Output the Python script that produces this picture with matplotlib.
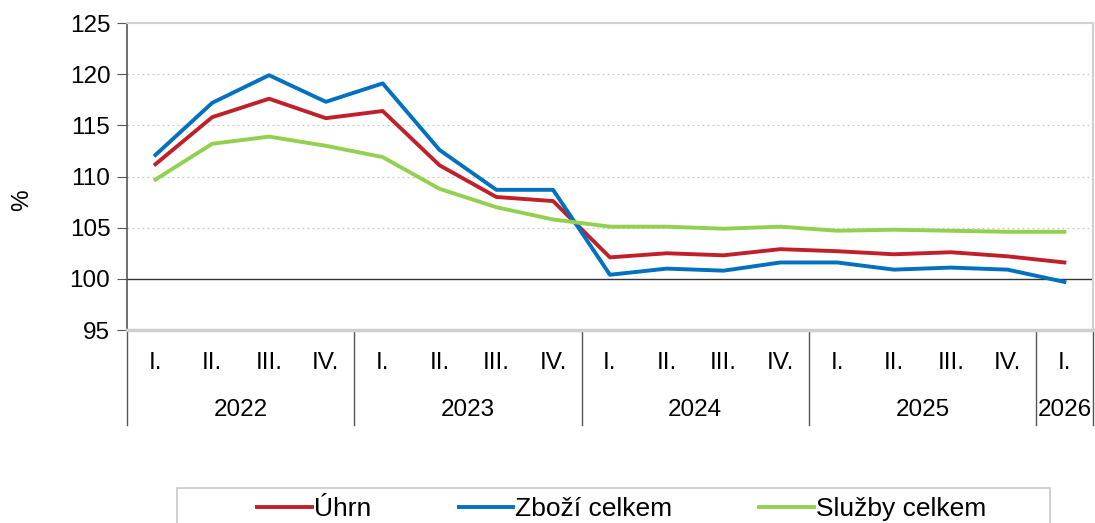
import matplotlib.pyplot as plt
import matplotlib.transforms as mtransforms
from matplotlib.patches import Rectangle

plt.rcParams['font.family'] = ['Liberation Sans', 'DejaVu Sans']

quarters = ['I.', 'II.', 'III.', 'IV.'] * 4 + ['I.']
years = ['2022', '2023', '2024', '2025', '2026']
year_counts = [4, 4, 4, 4, 1]

uhrn = [111.2, 115.8, 117.6, 115.7, 116.4, 111.1, 108.0, 107.6,
        102.1, 102.5, 102.3, 102.9, 102.7, 102.4, 102.6, 102.2, 101.6]
zbozi = [112.1, 117.2, 119.9, 117.3, 119.1, 112.6, 108.7, 108.7,
         100.4, 101.0, 100.8, 101.6, 101.6, 100.9, 101.1, 100.9, 99.7]
sluzby = [109.7, 113.2, 113.9, 113.0, 111.9, 108.8, 107.0, 105.8,
          105.1, 105.1, 104.9, 105.1, 104.7, 104.8, 104.7, 104.6, 104.6]

FS = 17.5

fig = plt.figure(figsize=(10.95, 5.23), dpi=100)
ax = fig.add_axes([0.116, 0.369, 0.882, 0.587])

x = list(range(len(quarters)))
ax.plot(x, uhrn, color='#C0202A', lw=2.8, label='Úhrn', zorder=3)
ax.plot(x, zbozi, color='#0070C0', lw=2.8, label='Zboží celkem', zorder=3)
ax.plot(x, sluzby, color='#92D050', lw=2.8, label='Služby celkem', zorder=3)

ax.set_xlim(-0.5, len(quarters) - 0.5)
ax.set_ylim(95, 125)
ax.set_yticks(range(95, 126, 5))
ax.tick_params(axis='y', labelsize=FS, length=7, color='#555555', direction='out', pad=5)
ax.set_xticks([])

for v in [105, 110, 115, 120]:
    ax.axhline(v, color='#c8c8c8', lw=0.9, ls=(0, (1.5, 2.5)), zorder=1)
ax.axhline(100, color='#333333', lw=1.0, zorder=2)

ax.spines['left'].set_color('#555555')
ax.spines['left'].set_linewidth(1.2)
ax.spines['bottom'].set_color('#d0d0d0')
ax.spines['bottom'].set_linewidth(2.5)
ax.spines['top'].set_color('#d0d0d0')
ax.spines['top'].set_linewidth(1.5)
ax.spines['right'].set_color('#d0d0d0')
ax.spines['right'].set_linewidth(1.5)

ax.set_ylabel('%', fontsize=FS)
ax.yaxis.set_label_coords(-0.097, 0.423)

# two-level category axis
trans = mtransforms.blended_transform_factory(ax.transData, ax.transAxes)
for i, q in enumerate(quarters):
    ax.text(i, -0.108, q, transform=trans, ha='center', va='center', fontsize=FS)

start = -0.5
ax.plot([start, start], [0, -0.31], transform=trans, color='#555555', lw=1.0, clip_on=False)
for yr, n in zip(years, year_counts):
    end = start + n
    ax.text((start + end) / 2, -0.262, yr, transform=trans, ha='center', va='center', fontsize=FS)
    ax.plot([end, end], [0, -0.31], transform=trans, color='#555555', lw=1.0, clip_on=False)
    start = end

# legend box runs off the bottom edge like in the original
fig.patches.append(Rectangle((0.162, -0.05), 0.797, 0.117, transform=fig.transFigure,
                             facecolor='white', edgecolor='#c8c8c8', lw=1.2))
fig.legend(loc='center', bbox_to_anchor=(0.568, 0.027), ncol=3, fontsize=19,
           frameon=False, handlelength=2.05, handletextpad=0.1, columnspacing=3.3)

fig.savefig('out.png', dpi=100)
